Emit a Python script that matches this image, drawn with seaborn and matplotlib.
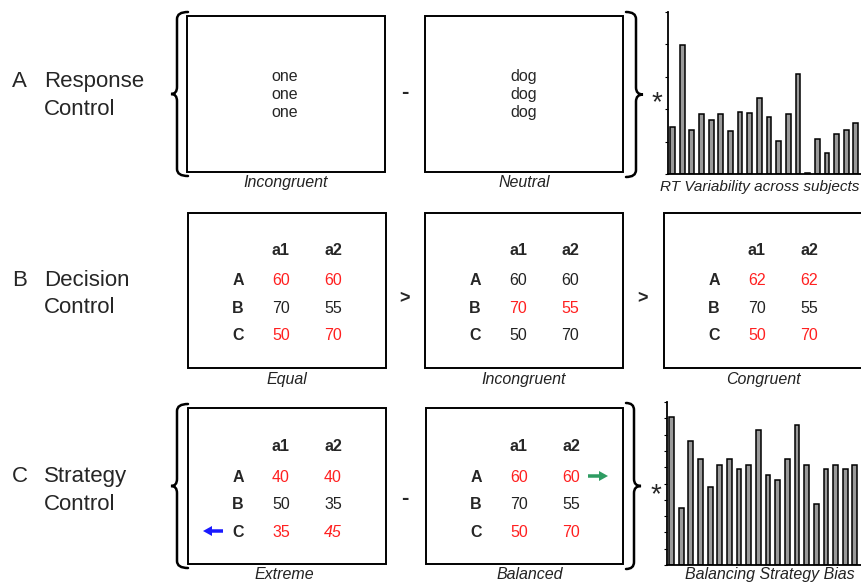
import numpy as np
import pandas as pd
import matplotlib.pyplot as plt
import seaborn as sns
from matplotlib.path import Path
from matplotlib.patches import PathPatch, Rectangle

# Bar values (arbitrary units)
subjects = [f"S{i}" for i in range(1, 21)]
rt_variability = [1.46, 3.97, 1.37, 1.84, 1.66, 1.86, 1.34, 1.92, 1.89, 2.35,
                  1.77, 1.03, 1.84, 3.10, 0.04, 1.07, 0.64, 1.23, 1.37, 1.58]
strategy_bias = [9.08, 3.47, 7.59, 6.49, 4.80, 6.16, 6.49, 5.88, 6.16, 8.27,
                 5.51, 5.20, 6.49, 8.61, 6.16, 3.73, 5.88, 6.16, 5.88, 6.16]

# Table contents
row_labels = ['A', 'B', 'C']
col_labels = ['a1', 'a2']
equal_vals = [[60, 60], [70, 55], [50, 70]]
incongruent_vals = [[60, 60], [70, 55], [50, 70]]
congruent_vals = [[62, 62], [70, 55], [50, 70]]
extreme_vals = [[40, 40], [50, 35], [35, 45]]
balanced_vals = [[60, 60], [70, 55], [50, 70]]
equal_red = ['A', 'C']
incongruent_red = ['B']
congruent_red = ['A', 'C']
extreme_red = ['A', 'C']
balanced_red = ['A', 'C']

words_incongruent = ['one', 'one', 'one']
words_neutral = ['dog', 'dog', 'dog']

RED = '#ff2020'

sns.set_theme(style='white')
plt.rcParams['font.family'] = ['Liberation Sans', 'DejaVu Sans']

fig = plt.figure(figsize=(8.61, 5.83), dpi=100)
ax = fig.add_axes([0, 0, 1, 1])
ax.set_xlim(0, 861)
ax.set_ylim(583, 0)
ax.axis('off')


def brace(x_tip, x_v, x_end, y0, y1, r=7):
    ym = (y0 + y1) / 2
    verts = [(x_end, y0), (x_v, y0), (x_v, y0 + r), (x_v, ym - r),
             (x_v, ym), (x_tip, ym), (x_v, ym), (x_v, ym + r),
             (x_v, y1 - r), (x_v, y1), (x_end, y1)]
    codes = [Path.MOVETO, Path.CURVE3, Path.CURVE3, Path.LINETO,
             Path.CURVE3, Path.CURVE3, Path.CURVE3, Path.CURVE3,
             Path.LINETO, Path.CURVE3, Path.CURVE3]
    ax.add_patch(PathPatch(Path(verts, codes), fill=False, lw=1.8,
                           ec='black', capstyle='round'))


def box(x0, y0, x1, y1):
    ax.add_patch(Rectangle((x0, y0), x1 - x0, y1 - y0, fill=False,
                           lw=1.4, ec='black'))


def table(x0, header_y, row_ys, vals, red_rows, italic=()):
    cols = [x0 + 93, x0 + 145]
    for cx, lab in zip(cols, col_labels):
        ax.text(cx, header_y, lab, ha='center', va='baseline',
                fontsize=11.5, fontweight='bold')
    for ry, lab, row in zip(row_ys, row_labels, vals):
        ax.text(x0 + 50, ry, lab, ha='center', va='baseline',
                fontsize=11.5, fontweight='bold')
        for cx, v in zip(cols, row):
            ax.text(cx, ry, str(v), ha='center', va='baseline', fontsize=11.5,
                    color=RED if lab in red_rows else '#222222',
                    fontstyle='italic' if (lab, v) in italic else 'normal')


def caption(x, y, s):
    ax.text(x, y, s, ha='center', va='baseline', fontsize=11.5,
            fontstyle='italic', color='#222222')


# row titles
for letter, l1, l2, y1, y2 in [('A', 'Response', 'Control', 87, 115),
                               ('B', 'Decision', 'Control', 286, 313),
                               ('C', 'Strategy', 'Control', 482, 510)]:
    ax.text(12, y1, letter, ha='left', va='baseline', fontsize=16)
    ax.text(44, y1, l1, ha='left', va='baseline', fontsize=16)
    ax.text(44, y2, l2, ha='left', va='baseline', fontsize=16)

# ---- A: response control
brace(171, 177, 188, 12, 176)
box(187, 16, 385, 172)
box(425, 16, 623, 172)
for i, (w1, w2) in enumerate(zip(words_incongruent, words_neutral)):
    ax.text(285, 81 + 18 * i, w1, ha='center', va='baseline', fontsize=11.5)
    ax.text(524, 81 + 18 * i, w2, ha='center', va='baseline', fontsize=11.5)
ax.text(405, 98, '-', ha='center', va='baseline', fontsize=16, fontweight='bold')
brace(643, 636, 626, 12, 177)
ax.text(657, 110, '*', ha='center', va='baseline', fontsize=20)
caption(286, 187, 'Incongruent')
caption(524, 187, 'Neutral')
ax.text(660, 191, 'RT Variability across subjects', ha='left', va='baseline',
        fontsize=11, fontstyle='italic', color='#222222')

# ---- B: decision control
b_rows = [285, 313, 340]
for x0, vals, red in [(188, equal_vals, equal_red),
                      (425, incongruent_vals, incongruent_red),
                      (664, congruent_vals, congruent_red)]:
    box(x0, 213, x0 + 198, 368)
    table(x0, 255, b_rows, vals, red)
ax.text(405, 303, '>', ha='center', va='baseline', fontsize=13, fontweight='bold')
ax.text(643, 303, '>', ha='center', va='baseline', fontsize=13, fontweight='bold')
caption(287, 384, 'Equal')
caption(524, 384, 'Incongruent')
caption(763, 384, 'Congruent')

# ---- C: strategy control
c_rows = [482, 509, 537]
brace(171, 177, 188, 404, 568)
box(188, 408, 386, 564)
box(426, 408, 623, 564)
table(188, 451, c_rows, extreme_vals, extreme_red, italic=[('C', 45)])
table(426, 451, c_rows, balanced_vals, balanced_red)
ax.text(405, 504, '-', ha='center', va='baseline', fontsize=16, fontweight='bold')
brace(641, 634, 626, 403, 569)
ax.text(656, 502, '*', ha='center', va='baseline', fontsize=20)
ax.arrow(223, 531, -20, 0, width=3.5, head_width=10, head_length=9,
         length_includes_head=True, color='#1a1aff', lw=0)
ax.arrow(588, 476, 20, 0, width=3.5, head_width=10, head_length=9,
         length_includes_head=True, color='#2e9c62', lw=0)
caption(284, 579, 'Extreme')
caption(530, 579, 'Balanced')
caption(770, 579, 'Balancing Strategy Bias')

# ---- small bar charts
spacing = 9.65


def bar_axes(left, top, bottom, values, ymax):
    a = fig.add_axes([left / 861, (583 - bottom) / 583,
                      (861 - left) / 861, (bottom - top) / 583])
    df = pd.DataFrame({'subject': subjects, 'value': values})
    sns.barplot(data=df, x='subject', y='value', ax=a, color='#9a9a9a',
                edgecolor='black', linewidth=1.1, width=0.5, saturation=1)
    a.set_xlim(-0.47, -0.47 + (861 - left) / spacing)
    a.set_ylim(0, ymax)
    a.set_yticks(np.arange(0, ymax + 1))
    a.set_yticklabels([])
    a.set_xticks([])
    a.set_xlabel('')
    a.set_ylabel('')
    a.patch.set_alpha(0)
    for s in ['top', 'right']:
        a.spines[s].set_visible(False)
    for s in ['left', 'bottom']:
        a.spines[s].set_color('black')
        a.spines[s].set_linewidth(1.3)
    a.tick_params(axis='y', direction='out', length=2, width=0.8,
                  color='black', left=True)
    return a


bar_axes(668, 12, 174, rt_variability, 5)
bar_axes(667, 402, 565, strategy_bias, 10)

fig.savefig('out.png', dpi=100)
